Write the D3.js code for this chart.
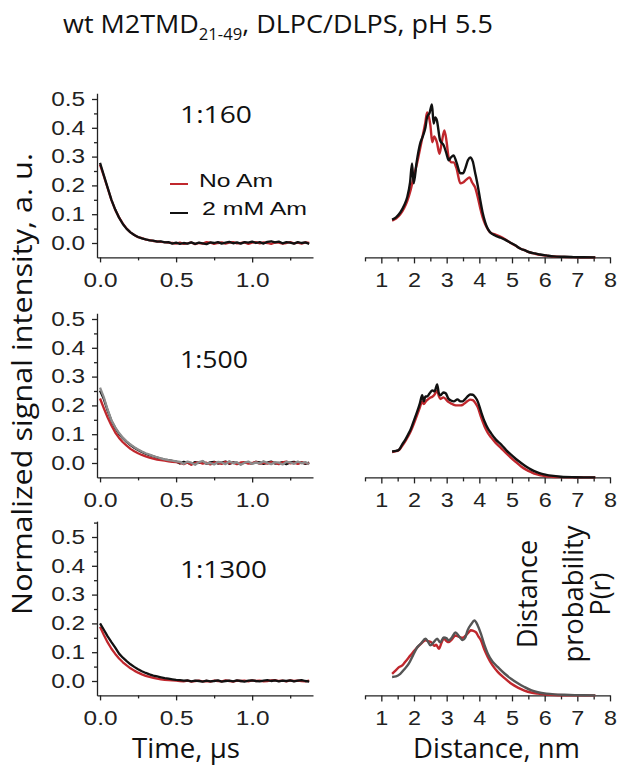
<!DOCTYPE html>
<html><head><meta charset="utf-8">
<script src="https://cdn.jsdelivr.net/npm/d3@7"></script>
<style>body{margin:0;background:#fff}svg{display:block}</style>
</head><body><svg id="c" width="630" height="773"></svg>
<script>
// ---------- DATA ----------
const time = [0,0.025,0.05,0.075,0.1,0.125,0.15,0.175,0.2,0.225,0.25,0.275,0.3,0.325,0.35,0.375,0.4,0.425,0.45,0.475,0.5,0.525,0.55,0.575,0.6,0.625,0.65,0.675,0.7,0.725,0.75,0.775,0.8,0.825,0.85,0.875,0.9,0.925,0.95,0.975,1.0,1.025,1.05,1.075,1.1,1.125,1.15,1.175,1.2,1.225,1.25,1.275,1.3,1.325,1.35,1.375];

// 1:160 time traces
const noAm160 = [0.272,0.232,0.190,0.149,0.115,0.089,0.067,0.050,0.037,0.028,0.020,0.017,0.012,0.010,0.007,0.006,0.004,0.003,0.001,0.000,-0.002,0.001,-0.003,-0.001,0.002,-0.004,0.000,-0.002,0.003,0.001,-0.003,0.000,0.002,-0.002,0.001,0.003,-0.001,0.000,0.002,-0.003,0.001,0.003,-0.001,0.002,0.000,-0.003,0.002,0.001,-0.002,0.000,0.003,-0.001,0.001,-0.002,0.002,0.000];
const am160 = [0.278,0.235,0.192,0.150,0.116,0.088,0.066,0.049,0.037,0.028,0.021,0.016,0.013,0.009,0.008,0.005,0.006,0.002,0.003,-0.002,0.001,-0.003,0.000,-0.002,0.002,-0.003,0.001,-0.001,-0.004,0.002,0.000,0.003,-0.002,0.001,0.004,-0.001,0.002,-0.002,0.003,0.001,0.005,0.000,0.003,-0.002,0.004,0.006,0.002,0.005,-0.001,0.003,0.001,-0.002,0.003,0.000,0.002,-0.003];
// 1:500 time traces
const noAm500 = [0.224,0.190,0.158,0.130,0.106,0.087,0.072,0.060,0.049,0.041,0.034,0.028,0.023,0.019,0.015,0.012,0.010,0.008,0.006,0.004,0.003,0.001,-0.004,0.002,-0.006,0.000,0.003,-0.002,0.001,-0.005,0.002,0.000,-0.003,0.004,-0.001,0.001,-0.004,0.002,0.003,-0.002,0.000,0.004,-0.003,0.001,-0.002,0.003,0.000,-0.004,0.002,0.005,-0.001,0.001,-0.003,0.002,0.000,-0.002];
const am500 = [0.252,0.222,0.182,0.146,0.121,0.101,0.086,0.073,0.062,0.053,0.045,0.038,0.032,0.027,0.023,0.019,0.015,0.012,0.010,0.007,0.005,-0.002,0.004,0.001,-0.004,0.003,0.000,0.005,-0.003,0.002,0.004,-0.002,0.001,0.005,-0.003,0.002,0.000,-0.004,0.003,0.001,-0.002,0.004,0.002,-0.003,0.001,0.005,-0.002,0.000,0.003,-0.004,0.002,0.004,-0.001,0.002,-0.003,0.001];
const grey500 = [0.262,0.228,0.185,0.148,0.124,0.104,0.088,0.075,0.064,0.055,0.047,0.040,0.034,0.029,0.024,0.020,0.016,0.013,0.010,0.008,0.006,0.004,-0.003,0.005,0.001,-0.006,0.003,0.007,-0.002,0.000,-0.005,0.004,0.002,-0.004,0.006,-0.001,0.003,-0.006,0.001,0.005,-0.003,0.002,-0.002,0.006,0.000,-0.004,0.003,0.001,-0.005,0.004,0.002,-0.003,0.005,-0.001,0.003,-0.004];
// 1:1300 time traces
const noAm1300 = [0.188,0.160,0.134,0.112,0.094,0.078,0.065,0.054,0.044,0.036,0.029,0.023,0.018,0.014,0.011,0.008,0.006,0.004,0.003,0.002,0.001,0.000,-0.001,0.001,-0.002,0.000,0.001,-0.001,0.000,-0.002,0.001,0.000,-0.001,0.002,0.000,-0.002,0.001,0.000,0.001,-0.001,0.002,0.000,0.001,-0.001,0.000,0.002,0.003,0.000,0.001,-0.001,0.002,0.000,0.001,0.000,-0.001,0.001];
const am1300 = [0.200,0.178,0.155,0.135,0.116,0.095,0.081,0.069,0.058,0.049,0.041,0.034,0.028,0.023,0.019,0.016,0.013,0.010,0.008,0.006,0.004,0.003,0.001,0.002,-0.001,0.001,0.000,-0.002,0.001,-0.001,0.000,0.002,-0.002,0.000,0.001,-0.001,0.002,0.000,-0.002,0.001,0.002,0.000,-0.001,0.001,0.003,0.000,0.002,-0.001,0.001,0.000,0.002,-0.001,0.001,0.003,0.000,-0.002];

// Distance distributions [r (nm), P(r)]
const prNoAm160 = [[1.33,0.128],[1.45,0.135],[1.58,0.150],[1.70,0.172],[1.79,0.195],[1.90,0.235],[2.00,0.285],[2.10,0.330],[2.19,0.380],[2.28,0.430],[2.35,0.470],[2.40,0.503],[2.45,0.490],[2.50,0.460],[2.56,0.400],[2.62,0.420],[2.70,0.400],[2.78,0.360],[2.85,0.400],[2.93,0.441],[3.00,0.400],[3.06,0.347],[3.15,0.330],[3.21,0.330],[3.30,0.310],[3.42,0.257],[3.50,0.260],[3.60,0.270],[3.70,0.278],[3.78,0.260],[3.87,0.243],[3.95,0.210],[4.03,0.170],[4.10,0.140],[4.18,0.115],[4.25,0.100],[4.33,0.087],[4.48,0.080],[4.64,0.072],[4.80,0.062],[4.94,0.052],[5.10,0.041],[5.25,0.031],[5.40,0.024],[5.56,0.017],[5.70,0.013],[5.86,0.009],[6.05,0.006],[6.27,0.003],[6.60,0.0015],[6.88,0.0008],[7.20,0.0002],[7.55,0]];
const prAm160 = [[1.33,0.131],[1.45,0.139],[1.58,0.156],[1.70,0.181],[1.79,0.208],[1.88,0.260],[1.94,0.326],[1.99,0.257],[2.08,0.330],[2.19,0.396],[2.28,0.424],[2.35,0.451],[2.40,0.486],[2.48,0.503],[2.55,0.531],[2.60,0.465],[2.65,0.486],[2.70,0.476],[2.80,0.406],[2.91,0.389],[3.00,0.358],[3.06,0.337],[3.13,0.347],[3.21,0.354],[3.30,0.330],[3.42,0.292],[3.50,0.292],[3.57,0.309],[3.65,0.337],[3.72,0.347],[3.80,0.333],[3.87,0.295],[3.95,0.250],[4.03,0.198],[4.10,0.156],[4.18,0.122],[4.25,0.101],[4.33,0.087],[4.48,0.076],[4.64,0.069],[4.80,0.061],[4.94,0.052],[5.10,0.042],[5.25,0.031],[5.40,0.024],[5.56,0.017],[5.70,0.014],[5.86,0.010],[6.05,0.007],[6.27,0.0035],[6.60,0.002],[6.88,0.001],[7.20,0.0003],[7.55,0]];
const prNoAm500 = [[1.33,0.088],[1.45,0.091],[1.54,0.095],[1.64,0.110],[1.74,0.127],[1.82,0.143],[1.90,0.160],[2.00,0.188],[2.10,0.218],[2.18,0.243],[2.25,0.264],[2.30,0.255],[2.35,0.262],[2.40,0.268],[2.48,0.276],[2.56,0.280],[2.63,0.288],[2.71,0.302],[2.76,0.282],[2.81,0.272],[2.90,0.278],[2.97,0.272],[3.05,0.262],[3.13,0.257],[3.22,0.252],[3.33,0.250],[3.42,0.250],[3.49,0.252],[3.56,0.258],[3.64,0.265],[3.72,0.270],[3.80,0.268],[3.88,0.258],[3.95,0.244],[4.05,0.210],[4.16,0.177],[4.26,0.155],[4.36,0.139],[4.50,0.120],[4.67,0.101],[4.82,0.084],[4.97,0.068],[5.12,0.053],[5.28,0.038],[5.43,0.027],[5.59,0.018],[5.74,0.011],[5.89,0.007],[6.05,0.004],[6.20,0.0025],[6.50,0.001],[6.92,0.0003],[7.20,0.0001],[7.55,0]];
const prAm500 = [[1.33,0.090],[1.45,0.092],[1.54,0.096],[1.64,0.115],[1.74,0.132],[1.82,0.149],[1.90,0.167],[2.00,0.198],[2.10,0.229],[2.18,0.257],[2.25,0.285],[2.30,0.264],[2.35,0.281],[2.40,0.281],[2.48,0.292],[2.56,0.302],[2.63,0.299],[2.71,0.323],[2.76,0.292],[2.81,0.285],[2.90,0.295],[2.97,0.292],[3.05,0.274],[3.13,0.267],[3.22,0.264],[3.33,0.271],[3.42,0.264],[3.49,0.264],[3.56,0.271],[3.64,0.281],[3.72,0.288],[3.80,0.287],[3.88,0.278],[3.95,0.264],[4.05,0.229],[4.16,0.194],[4.26,0.170],[4.36,0.153],[4.50,0.132],[4.67,0.114],[4.82,0.095],[4.97,0.079],[5.12,0.064],[5.28,0.050],[5.43,0.038],[5.59,0.027],[5.74,0.019],[5.89,0.013],[6.05,0.009],[6.20,0.006],[6.50,0.0024],[6.92,0.0007],[7.20,0.0002],[7.55,0]];
const prNoAm1300 = [[1.33,0.075],[1.45,0.088],[1.54,0.098],[1.65,0.105],[1.74,0.118],[1.84,0.132],[1.97,0.150],[2.10,0.167],[2.22,0.180],[2.35,0.191],[2.45,0.188],[2.55,0.182],[2.62,0.172],[2.68,0.176],[2.76,0.162],[2.85,0.185],[2.91,0.197],[3.00,0.188],[3.06,0.185],[3.13,0.191],[3.20,0.200],[3.27,0.208],[3.38,0.203],[3.49,0.200],[3.60,0.210],[3.70,0.222],[3.74,0.226],[3.82,0.224],[3.90,0.219],[3.97,0.205],[4.05,0.191],[4.15,0.160],[4.26,0.133],[4.40,0.105],[4.57,0.081],[4.77,0.060],[4.97,0.041],[5.18,0.027],[5.38,0.017],[5.58,0.010],[5.79,0.006],[6.05,0.003],[6.30,0.0015],[6.60,0.0006],[7.00,0.0001],[7.55,0]];
const prAm1300 = [[1.33,0.064],[1.45,0.066],[1.58,0.075],[1.70,0.090],[1.84,0.110],[1.97,0.139],[2.10,0.167],[2.22,0.181],[2.35,0.197],[2.42,0.188],[2.50,0.174],[2.60,0.184],[2.71,0.197],[2.80,0.184],[2.91,0.201],[3.00,0.198],[3.06,0.191],[3.16,0.201],[3.27,0.219],[3.38,0.205],[3.49,0.192],[3.57,0.201],[3.64,0.226],[3.75,0.247],[3.85,0.260],[3.95,0.243],[4.05,0.214],[4.15,0.177],[4.26,0.145],[4.40,0.118],[4.57,0.098],[4.77,0.076],[4.97,0.058],[5.18,0.042],[5.38,0.029],[5.58,0.018],[5.79,0.011],[6.05,0.006],[6.30,0.0035],[6.60,0.002],[6.92,0.001],[7.20,0.0003],[7.55,0]];

const ratioLabels = ["1:160","1:500","1:1300"];
const legendLabels = ["No Am","2 mM Am"];
const yTicks = [0,0.1,0.2,0.3,0.4,0.5];
const tTicks = [0,0.5,1.0];
const rTicks = [1,2,3,4,5,6,7,8];

// ---------- DRAW ----------
const RED = "#c0272d", BLACK = "#111111", GREYM = "#8c8c8c", GREYB = "#555555";
const svg = d3.select("#c");
svg.append("rect").attr("width",630).attr("height",773).attr("fill","#fff");

const TITLEFONT = "'Open Sans', 'Noto Sans', sans-serif";
const TICKFONT = "'Liberation Sans', Arial, sans-serif";

function fitX(sel, target, ax, ay){
  const w = sel.node().getBBox().width;
  const s = target / w;
  sel.attr("transform", `translate(${ax},${ay}) scale(${s},1) translate(${-ax},${-ay})`);
}

const PXU = 288; // px per unit
const panels = [
  {zero:243, top:0.52, minorTop:[], lbl:ratioLabels[0], lblY:123, lblW:72,
   left:[{d:noAm160,c:RED},{d:am160,c:BLACK}],
   right:[{d:prNoAm160,c:RED},{d:prAm160,c:BLACK}]},
  {zero:463, top:0.52, minorTop:[], lbl:ratioLabels[1], lblY:368, lblW:68,
   left:[{d:am500,c:BLACK},{d:noAm500,c:RED},{d:grey500,c:GREYM}],
   right:[{d:prNoAm500,c:RED},{d:prAm500,c:BLACK}]},
  {zero:681, top:0.555, minorTop:[0.55], lbl:ratioLabels[2], lblY:578, lblW:87,
   left:[{d:noAm1300,c:RED},{d:am1300,c:BLACK}],
   right:[{d:prNoAm1300,c:RED},{d:prAm1300,c:GREYB}]}
];

const xT = d3.scaleLinear().domain([-0.02,1.4]).range([97,313]);
const xR = d3.scaleLinear().domain([0.5,8]).range([365,610]);

function styleAxis(g){
  g.selectAll("path,line").attr("stroke","#222").attr("stroke-width",1.3);
}

panels.forEach(p => {
  const axisY = p.zero + 0.05*PXU;
  const y = d3.scaleLinear().domain([-0.05,p.top]).range([axisY, p.zero - p.top*PXU]);
  const yR = d3.scaleLinear().domain([0,0.55]).range([axisY, axisY - 0.55*PXU]);

  // left y axis
  const gy = svg.append("g").attr("transform","translate(97,0)")
    .call(d3.axisLeft(y).tickValues(yTicks).tickSize(5).tickSizeOuter(0).tickPadding(7).tickFormat(d3.format(".1f")));
  styleAxis(gy);
  gy.selectAll("text").attr("font-family",TICKFONT).attr("font-size",19.5).attr("fill","#222")
    .attr("x",0).attr("transform","translate(-12,0) scale(1.25,1)");
  const gym = svg.append("g").attr("transform","translate(97,0)")
    .call(d3.axisLeft(y).tickValues([0.05,0.15,0.25,0.35,0.45].concat(p.minorTop)).tickSize(3).tickFormat(""));
  gym.select(".domain").remove(); styleAxis(gym);

  // left x axis
  const gx = svg.append("g").attr("transform",`translate(0,${axisY})`)
    .call(d3.axisBottom(xT).tickValues(tTicks).tickSize(5).tickSizeOuter(0).tickPadding(11).tickFormat(d3.format(".1f")));
  styleAxis(gx);
  gx.selectAll("text").attr("font-family",TICKFONT).attr("font-size",19.5).attr("fill","#222")
    .attr("transform","scale(1.25,1)");
  const gxm = svg.append("g").attr("transform",`translate(0,${axisY})`)
    .call(d3.axisBottom(xT).tickValues([0.25,0.75,1.25]).tickSize(3).tickFormat(""));
  gxm.select(".domain").remove(); styleAxis(gxm);

  // right x axis
  const gr = svg.append("g").attr("transform",`translate(0,${axisY})`)
    .call(d3.axisBottom(xR).tickValues(rTicks).tickSize(6).tickSizeOuter(0).tickPadding(10).tickFormat(d3.format("d")));
  styleAxis(gr);
  gr.selectAll("text").attr("font-family",TICKFONT).attr("font-size",19.5).attr("fill","#222")
    .attr("transform","scale(1.2,1)");
  const grm = svg.append("g").attr("transform",`translate(0,${axisY})`)
    .call(d3.axisBottom(xR).tickValues([0.5,1.5,2.5,3.5,4.5,5.5,6.5,7.5]).tickSize(4).tickFormat(""));
  grm.select(".domain").remove(); styleAxis(grm);

  // left traces
  const lineT = d3.line().x((d,i)=>xT(time[i])).y(d=>y(d));
  p.left.forEach(s => {
    svg.append("path").datum(s.d).attr("d",lineT).attr("fill","none")
      .attr("stroke",s.c).attr("stroke-width",2.3).attr("stroke-linejoin","round");
  });
  // right distributions
  const lineR = d3.line().x(d=>xR(d[0])).y(d=>yR(d[1])).curve(d3.curveMonotoneX);
  p.right.forEach(s => {
    svg.append("path").datum(s.d).attr("d",lineR).attr("fill","none")
      .attr("stroke",s.c).attr("stroke-width",2.4).attr("stroke-linejoin","round");
  });

  // ratio label
  const t = svg.append("text").attr("x",180).attr("y",p.lblY).attr("font-family",TITLEFONT)
    .attr("font-size",24).attr("fill","#111").text(p.lbl);
  fitX(t, p.lblW, 180, p.lblY);
});

// legend
const legY = [184, 213], legTxtY = [187, 215], legTxtX = [199, 202], legW = [74, 105], legC = [RED, BLACK];
legendLabels.forEach((l,i) => {
  svg.append("line").attr("x1",170).attr("x2",188).attr("y1",legY[i]).attr("y2",legY[i])
    .attr("stroke",legC[i]).attr("stroke-width",2);
  const t = svg.append("text").attr("x",legTxtX[i]).attr("y",legTxtY[i]).attr("font-family",TICKFONT)
    .attr("font-size",18.6).attr("fill","#111").text(l);
  fitX(t, legW[i], legTxtX[i], legTxtY[i]);
});

// title
const title = svg.append("text").attr("x",63).attr("y",33).attr("font-family",TITLEFONT)
  .attr("font-size",26).attr("fill","#111");
title.append("tspan").text("wt M2TMD");
title.append("tspan").attr("font-size",16).attr("dy",7).text("21-49");
title.append("tspan").attr("dy",-7).text(", DLPC/DLPS, pH 5.5");
fitX(title, 430, 63, 33);

// axis titles
function rotLabel(txt, bx, cy, len){
  const g = svg.append("g").attr("transform",`translate(${bx},${cy}) rotate(-90)`);
  const t = g.append("text").attr("x",0).attr("y",0).attr("text-anchor","middle")
    .attr("font-family",TITLEFONT).attr("font-size",28).attr("fill","#111").text(txt);
  fitX(t, len, 0, 0);
}
rotLabel("Normalized signal intensity, a. u.", 32, 384, 462);
rotLabel("Distance", 537, 594, 108);
rotLabel("probability", 583, 594, 138);
rotLabel("P(r)", 610, 594, 43);

function hLabel(txt, cx, by, len){
  const t = svg.append("text").attr("x",cx).attr("y",by).attr("text-anchor","middle")
    .attr("font-family",TITLEFONT).attr("font-size",28).attr("fill","#111").text(txt);
  fitX(t, len, cx, by);
}
hLabel("Time, \u00b5s", 186, 758, 108);
hLabel("Distance, nm", 496.5, 758, 167);
</script></body></html>
